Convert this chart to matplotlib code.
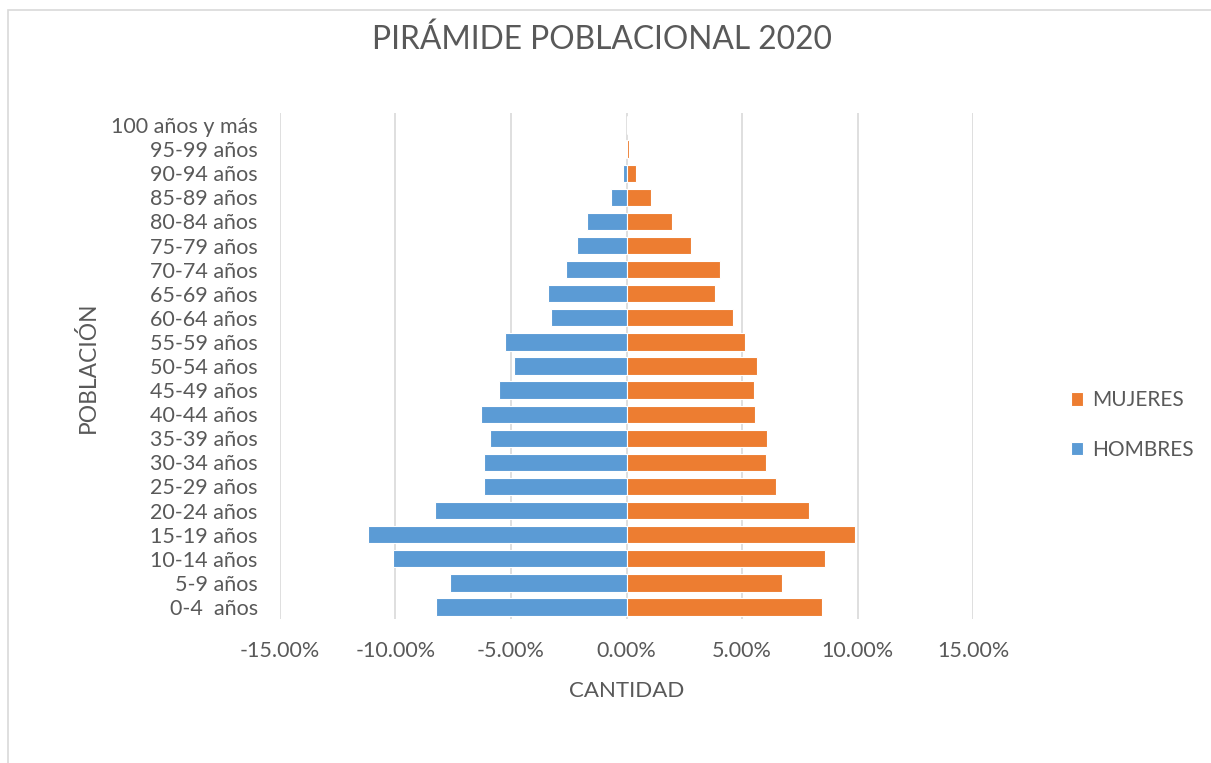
import matplotlib.pyplot as plt
from matplotlib.patches import Rectangle
from matplotlib.ticker import FuncFormatter

# grupos de edad (de abajo hacia arriba)
grupos = ["0-4  años", "5-9 años", "10-14 años", "15-19 años", "20-24 años",
          "25-29 años", "30-34 años", "35-39 años", "40-44 años", "45-49 años",
          "50-54 años", "55-59 años", "60-64 años", "65-69 años", "70-74 años",
          "75-79 años", "80-84 años", "85-89 años", "90-94 años", "95-99 años",
          "100 años y más"]

hombres = [-8.23, -7.66, -10.09, -11.21, -8.27, -6.15, -6.19, -5.89, -6.28, -5.50,
           -4.89, -5.24, -3.25, -3.38, -2.60, -2.16, -1.73, -0.65, -0.17, -0.02, 0.0]
mujeres = [8.48, 6.71, 8.61, 9.91, 7.88, 6.45, 6.02, 6.10, 5.58, 5.54,
           5.63, 5.15, 4.63, 3.85, 4.03, 2.77, 1.95, 1.04, 0.43, 0.09, 0.0]

ticks_x = [-15, -10, -5, 0, 5, 10, 15]

gris = "#595959"
plt.rcParams['font.family'] = ['Lato', 'DejaVu Sans']

fig = plt.figure(figsize=(12.11, 7.63), dpi=100)
ax = fig.add_axes([0.2312, 0.1887, 0.5723, 0.6632])

# marco del grafico
fig.patches.append(Rectangle((8 / 1211, -0.05), 1.1, 1 - 10 / 763 + 0.05,
                             transform=fig.transFigure, fill=False,
                             edgecolor="#D9D9D9", linewidth=1.2))

y = range(len(grupos))
ax.barh(y, hombres, height=0.72, color="#5B9BD5", edgecolor="white",
        linewidth=0.8, label="HOMBRES", zorder=3)
ax.barh(y, mujeres, height=0.72, color="#ED7D31", edgecolor="white",
        linewidth=0.8, label="MUJERES", zorder=3)

ax.set_xlim(-15, 15)
ax.set_ylim(-0.5, len(grupos) - 0.5)
ax.set_xticks(ticks_x)
ax.xaxis.set_major_formatter(FuncFormatter(lambda v, p: f"{v:.2f}%"))
ax.set_yticks(list(y))
ax.set_yticklabels(grupos)
ax.tick_params(axis="x", length=0, pad=16, labelsize=15.5, labelcolor=gris)
ax.tick_params(axis="y", length=0, pad=16, labelsize=15.5, labelcolor=gris)
ax.grid(axis="x", color="#D9D9D9", linewidth=1.2, zorder=0)
for s in ax.spines.values():
    s.set_visible(False)

ax.set_xlabel("CANTIDAD", fontsize=16, color=gris, labelpad=14)
fig.text(88 / 1211, 1 - 367 / 763, "POBLACIÓN", rotation=90, fontsize=16.4,
         color=gris, ha="center", va="center")
fig.text(602 / 1211, 1 - 40 / 763, "PIRÁMIDE POBLACIONAL 2020", fontsize=22.9,
         color=gris, ha="center", va="center")

handles, labels = ax.get_legend_handles_labels()
leg = fig.legend(handles[::-1], labels[::-1], loc="center left",
                 bbox_to_anchor=(1052 / 1211, 1 - 425 / 763), frameon=False,
                 fontsize=15, labelcolor=gris, handlelength=0.6, handleheight=0.6,
                 handletextpad=0.45, labelspacing=1.4)

plt.savefig("out.png", dpi=100)
